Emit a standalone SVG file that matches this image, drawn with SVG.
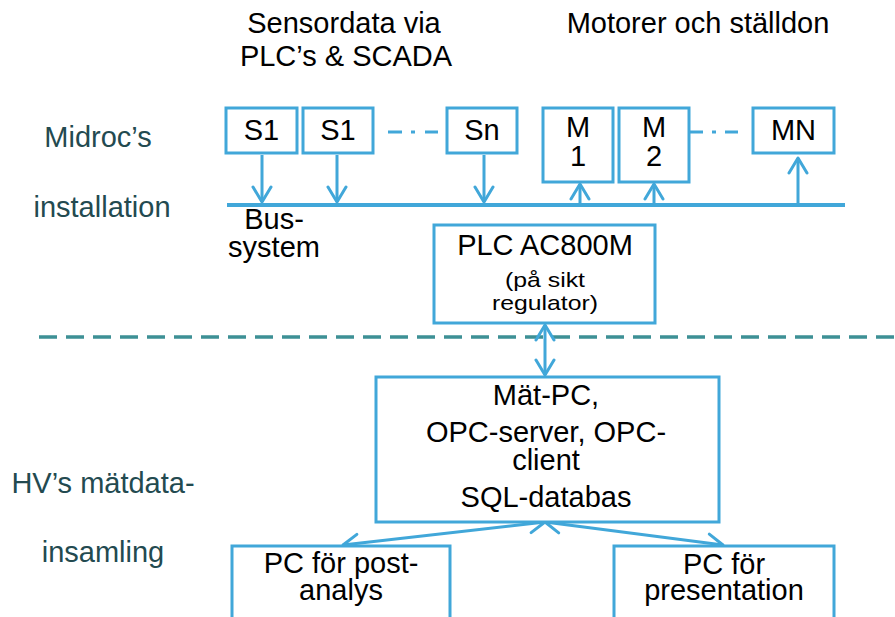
<svg xmlns="http://www.w3.org/2000/svg" width="895" height="617" viewBox="0 0 895 617">
<defs>
<style>
.box{fill:#ffffff;stroke:#41a7d9;stroke-width:3}
.t{font-family:"Liberation Sans",Arial,sans-serif;font-size:29px;fill:#000;text-anchor:middle}
.s{font-size:21px}
.lbl{font-family:"Liberation Sans",Arial,sans-serif;font-size:29px;fill:#234a50;text-anchor:middle}
.c{stroke:#41a7d9;stroke-width:3;fill:none}
</style>
<marker id="ah" markerUnits="userSpaceOnUse" viewBox="-18 -12 20 24" refX="0" refY="0" markerWidth="20" markerHeight="24" orient="auto-start-reverse">
<path d="M-15,-9 L0,0 L-15,9" fill="none" stroke="#41a7d9" stroke-width="3" stroke-linejoin="round" stroke-linecap="round"/>
</marker>
</defs>
<rect width="895" height="617" fill="#ffffff"/>

<g id="labels">
<text class="t" x="344" y="33">Sensordata via</text>
<text class="t" x="346" y="66">PLC’s &amp; SCADA</text>
<text class="t" x="698" y="33">Motorer och ställdon</text>
<text class="lbl" x="98" y="147">Midroc’s</text>
<text class="lbl" x="102" y="217">installation</text>
<text class="lbl" x="103" y="493">HV’s mätdata-</text>
<text class="lbl" x="103" y="562">insamling</text>
<text class="t" x="274" y="229">Bus-</text>
<text class="t" x="274" y="257">system</text>
</g>

<g id="connectors">
<line x1="227" y1="205" x2="845" y2="205" stroke="#41a7d9" stroke-width="4"/>
<line x1="388" y1="132" x2="438" y2="132" class="c" stroke-dasharray="14 9 4 10 14"/>
<line x1="689" y1="132" x2="738" y2="132" class="c" stroke-dasharray="14 9 4 9 14"/>
<line x1="262" y1="155" x2="262" y2="202" class="c" marker-end="url(#ah)"/>
<line x1="337" y1="155" x2="337" y2="202" class="c" marker-end="url(#ah)"/>
<line x1="484" y1="155" x2="484" y2="202" class="c" marker-end="url(#ah)"/>
<line x1="580" y1="203" x2="580" y2="184" class="c" marker-end="url(#ah)"/>
<line x1="654" y1="203" x2="654" y2="184" class="c" marker-end="url(#ah)"/>
<line x1="798" y1="203" x2="798" y2="158" class="c" marker-end="url(#ah)"/>
<line x1="39" y1="337" x2="895" y2="337" stroke="#3d9095" stroke-width="3.5" stroke-dasharray="18 9"/>
<line x1="545" y1="325" x2="545" y2="375" class="c" marker-start="url(#ah)" marker-end="url(#ah)"/>
<line x1="545" y1="522" x2="343" y2="545" class="c" marker-start="url(#ah)" marker-end="url(#ah)"/>
<line x1="545" y1="522" x2="723" y2="545" class="c" marker-start="url(#ah)" marker-end="url(#ah)"/>
</g>

<g id="S1a"><rect class="box" x="226" y="108" width="71" height="45"/><text class="t" x="261.5" y="140">S1</text></g>
<g id="S1b"><rect class="box" x="303" y="108" width="70" height="45"/><text class="t" x="338" y="140">S1</text></g>
<g id="Sn"><rect class="box" x="447" y="108" width="70" height="45"/><text class="t" x="482" y="140">Sn</text></g>
<g id="M1"><rect class="box" x="543" y="108" width="70" height="74"/><text class="t" x="578" y="137">M</text><text class="t" x="578" y="166">1</text></g>
<g id="M2"><rect class="box" x="619" y="108" width="70" height="74"/><text class="t" x="654" y="137">M</text><text class="t" x="654" y="166">2</text></g>
<g id="MN"><rect class="box" x="753" y="108" width="81" height="45"/><text class="t" x="793.5" y="140">MN</text></g>

<g id="PLC"><rect class="box" x="434" y="225" width="221" height="98"/>
<text class="t" x="545" y="255">PLC AC800M</text>
<text class="t s" x="545" y="287" textLength="80" lengthAdjust="spacingAndGlyphs">(på sikt</text>
<text class="t s" x="545" y="310" textLength="106" lengthAdjust="spacingAndGlyphs">regulator)</text></g>

<g id="MatPC"><rect class="box" x="376" y="377" width="343" height="145"/>
<text class="t" x="546" y="405">Mät-PC,</text>
<text class="t" x="546" y="442">OPC-server, OPC-</text>
<text class="t" x="546" y="470">client</text>
<text class="t" x="546" y="507">SQL-databas</text></g>

<g id="PostAnalys"><rect class="box" x="232" y="546" width="218" height="80"/>
<text class="t" x="341" y="573">PC för post-</text>
<text class="t" x="341" y="600">analys</text></g>

<g id="Presentation"><rect class="box" x="614" y="546" width="220" height="80"/>
<text class="t" x="724" y="574">PC för</text>
<text class="t" x="724" y="600">presentation</text></g>
</svg>
